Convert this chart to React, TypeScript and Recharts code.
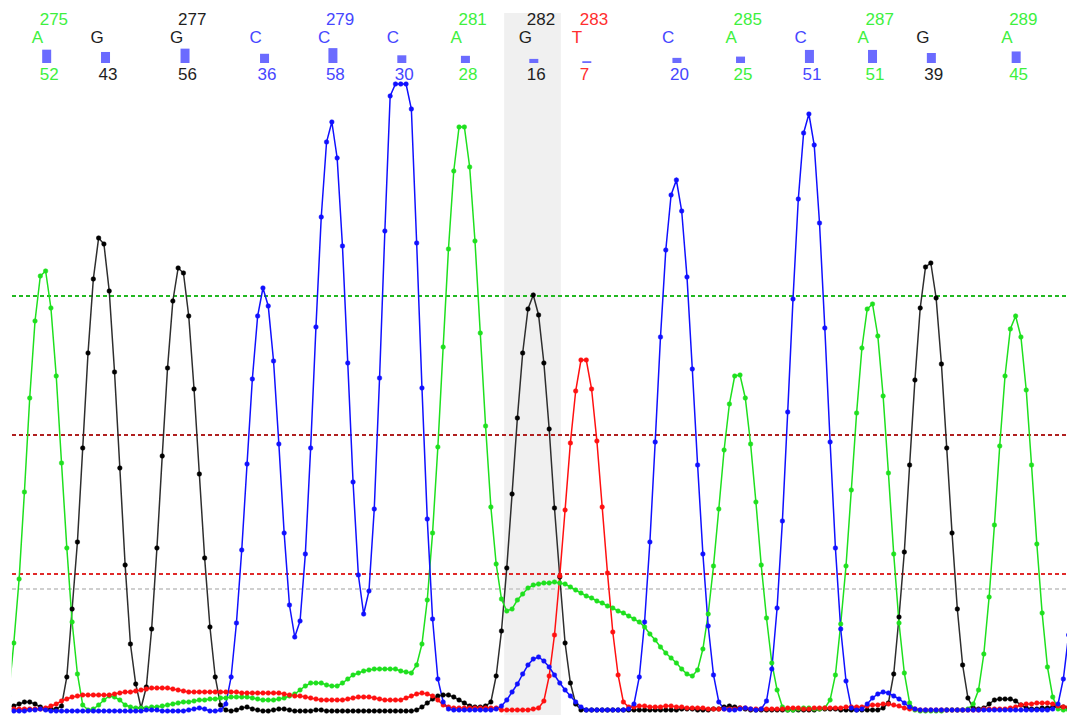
import { ComposedChart, Line, XAxis, YAxis, ReferenceArea, ReferenceLine, Scatter } from "recharts";

// sample index of the first value in each trace
const START = -1;

// trace heights per sample (index -1 .. 201)
const traceA = [
  16,
  69, 133, 220, 314, 391, 436, 441, 404, 336, 249,
  164, 90, 38, 7, 2, 3, 7, 12, 16, 15,
  12, 7, 5, 4, 4, 4, 5, 5, 6, 7,
  8, 9, 10, 10, 11, 12, 12, 13, 13, 14,
  14, 15, 15, 15, 15, 14, 13, 12, 12, 12,
  13, 14, 16, 18, 22, 26, 29, 29, 29, 27,
  26, 26, 29, 33, 37, 39, 41, 42, 43, 43,
  43, 43, 43, 41, 40, 39, 47, 68, 112, 179,
  265, 365, 463, 541, 585, 585, 545, 471, 379, 286,
  205, 148, 113, 101, 103, 112, 118, 124, 127, 128,
  129, 129, 130, 129, 128, 125, 122, 119, 116, 114,
  111, 109, 106, 104, 101, 99, 96, 93, 90, 85,
  78, 72, 65, 59, 54, 49, 43, 38, 36, 42,
  63, 98, 146, 203, 262, 308, 336, 337, 314, 268,
  210, 147, 94, 49, 22, 5, 2, 2, 3, 4,
  4, 3, 3, 4, 12, 37, 88, 146, 222, 299,
  364, 403, 408, 376, 316, 239, 158, 89, 39, 9,
  2, 1, 1, 1, 1, 1, 2, 2, 2, 2,
  3, 8, 22, 58, 115, 187, 266, 336, 383, 396,
  375, 322, 247, 168, 99, 45, 15, 3, 2, 2,
  2, 2,
];

const traceC = [
  1,
  1, 1, 1, 2, 2, 3, 2, 1, 1, 1,
  1, 1, 1, 1, 1, 1, 1, 1, 1, 1,
  1, 1, 1, 1, 1, 2, 2, 2, 1, 1,
  1, 1, 1, 2, 3, 4, 3, 1, 1, 2,
  8, 35, 89, 162, 248, 333, 396, 424, 406, 351,
  268, 179, 107, 75, 91, 158, 264, 385, 495, 570,
  590, 554, 466, 349, 230, 137, 98, 121, 203, 334,
  481, 616, 628, 628, 628, 603, 469, 324, 193, 93,
  33, 10, 3, 2, 2, 2, 2, 2, 2, 2,
  2, 3, 6, 12, 20, 28, 38, 47, 53, 55,
  51, 45, 37, 29, 22, 16, 10, 5, 2, 2,
  2, 2, 2, 2, 2, 2, 3, 8, 35, 90,
  170, 270, 375, 462, 517, 532, 501, 435, 343, 247,
  158, 86, 37, 10, 3, 2, 2, 3, 4, 3,
  2, 3, 11, 43, 104, 191, 300, 413, 513, 579,
  598, 567, 489, 384, 270, 164, 83, 31, 4, 2,
  3, 8, 14, 18, 20, 19, 16, 13, 9, 5,
  3, 2, 2, 2, 2, 2, 2, 2, 2, 2,
  2, 2, 2, 2, 2, 2, 2, 2, 2, 2,
  2, 2, 2, 2, 2, 2, 3, 8, 33, 77,
  139, 250,
];

const traceG = [
  5,
  6, 8, 10, 10, 8, 5, 3, 3, 3, 6,
  35, 103, 170, 264, 359, 433, 474, 468, 421, 340,
  244, 147, 68, 28, 4, 25, 83, 164, 256, 344,
  411, 444, 439, 396, 323, 238, 154, 85, 35, 7,
  2, 1, 2, 4, 5, 3, 2, 1, 1, 2,
  3, 3, 2, 1, 1, 1, 1, 2, 2, 1,
  1, 1, 1, 1, 1, 1, 1, 1, 1, 1,
  1, 1, 1, 1, 1, 1, 2, 5, 9, 13,
  16, 17, 17, 15, 12, 9, 6, 5, 5, 6,
  10, 36, 81, 144, 218, 294, 359, 403, 417, 397,
  349, 283, 204, 135, 69, 29, 8, 2, 2, 2,
  2, 2, 2, 2, 2, 2, 2, 2, 2, 2,
  2, 2, 2, 2, 2, 2, 3, 3, 3, 2,
  2, 2, 3, 3, 5, 6, 5, 4, 3, 2,
  2, 2, 2, 2, 2, 2, 2, 2, 2, 2,
  2, 2, 3, 3, 3, 3, 2, 2, 2, 2,
  2, 2, 2, 2, 4, 9, 38, 95, 160, 247,
  332, 404, 445, 449, 414, 348, 264, 179, 103, 47,
  14, 4, 3, 4, 8, 12, 13, 13, 13, 11,
  7, 4, 3, 3, 4, 4, 5, 5, 5, 4,
  4, 4,
];

const traceT = [
  3,
  3, 3, 3, 3, 3, 3, 4, 6, 8, 11,
  13, 15, 16, 17, 17, 17, 17, 17, 17, 18,
  19, 20, 20, 21, 22, 23, 24, 24, 24, 24,
  23, 22, 21, 20, 20, 20, 20, 20, 20, 20,
  20, 20, 20, 19, 19, 19, 19, 19, 19, 19,
  19, 18, 17, 16, 16, 15, 14, 13, 12, 12,
  12, 12, 12, 13, 14, 15, 15, 15, 14, 13,
  12, 12, 12, 12, 14, 16, 18, 19, 18, 16,
  12, 7, 5, 4, 4, 4, 4, 4, 4, 4,
  4, 4, 2, 2, 2, 2, 2, 2, 3, 4,
  11, 36, 77, 136, 202, 269, 321, 352, 352, 323,
  271, 205, 139, 80, 37, 10, 5, 5, 6, 6,
  5, 5, 5, 6, 6, 5, 5, 4, 4, 4,
  4, 3, 3, 3, 3, 3, 3, 4, 4, 3,
  3, 3, 3, 3, 3, 3, 4, 4, 4, 3,
  3, 4, 4, 4, 4, 4, 4, 5, 5, 5,
  5, 6, 7, 7, 8, 8, 7, 6, 4, 3,
  3, 2, 2, 2, 2, 2, 2, 2, 2, 2,
  2, 2, 2, 3, 3, 3, 3, 3, 4, 5,
  7, 8, 8, 9, 9, 9, 8, 6, 5, 5,
  5, 5,
];

// called bases: position in samples, base, quality, position label
const baseCalls = [
  { pos: 6.2, base: "A", q: 52, num: "275" },
  { pos: 17.3, base: "G", q: 43, num: "" },
  { pos: 32.3, base: "G", q: 56, num: "277" },
  { pos: 47.3, base: "C", q: 36, num: "" },
  { pos: 60.2, base: "C", q: 58, num: "279" },
  { pos: 73.2, base: "C", q: 30, num: "" },
  { pos: 85.2, base: "A", q: 28, num: "281" },
  { pos: 98.1, base: "G", q: 16, num: "282" },
  { pos: 108.1, base: "T", q: 7, num: "283" },
  { pos: 125.1, base: "C", q: 20, num: "" },
  { pos: 137.1, base: "A", q: 25, num: "285" },
  { pos: 150.1, base: "C", q: 51, num: "" },
  { pos: 162, base: "A", q: 51, num: "287" },
  { pos: 173.1, base: "G", q: 39, num: "" },
  { pos: 189.1, base: "A", q: 45, num: "289" },
];

// selected base, in samples
const highlight = [92.5, 103.2];

const thresholds = [
  { y: 416, color: "#22b822" },
  { y: 277, color: "#b02020" },
  { y: 138, color: "#e02a2a" },
  { y: 123, color: "#cfcfcf" },
];

const FONT = '"Liberation Sans", Arial, sans-serif';
const textColor: Record<string, string> = { A: "#3ef03e", C: "#4646ff", G: "#1e1e1e", T: "#ff2e2e" };
const traceColor = { A: "#1ee01e", C: "#1010ff", G: "#2e2e2e", T: "#ff1010" };

const rows = traceA.map((a, k) => ({ i: k + START, A: a, C: traceC[k], G: traceG[k], T: traceT[k] }));
const headerRows = baseCalls.map((b) => ({ ...b, i: b.pos, y: 687 }));

function BaseMark(props: any) {
  const { cx, cy, payload } = props;
  if (cx == null || cy == null || !payload) return null;
  const color = textColor[payload.base];
  const h = Math.max(1.5, payload.q / 3.9);
  return (
    <g fontFamily={FONT} fontSize={17}>
      {payload.num ? (
        <text x={cx - 7} y={cy} fill={color}>
          {payload.num}
        </text>
      ) : null}
      <text x={cx - 15} y={cy + 18} fill={color}>
        {payload.base}
      </text>
      <rect x={cx - 4.5} y={cy + 38 - h} width={9} height={h} fill="#6b6bff" />
      <text x={cx - 7} y={cy + 55} fill={color}>
        {payload.q}
      </text>
    </g>
  );
}

function trace(key: "A" | "C" | "G" | "T", dotFill: string) {
  const col = traceColor[key];
  return (
    <Line
      type="linear"
      dataKey={key}
      stroke={col}
      strokeWidth={1.5}
      dot={{ r: 2.3, fill: dotFill, stroke: dotFill, strokeWidth: 0.5 }}
      activeDot={false}
      isAnimationActive={false}
    />
  );
}

export default function App() {
  return (
    <div style={{ width: 1067, height: 707, background: "#fff" }}>
      <ComposedChart width={1067} height={707} data={rows} margin={{ top: 4, right: 0, bottom: 0, left: 3.7 }}>
        <XAxis dataKey="i" type="number" domain={[-0.4, 200.2]} allowDataOverflow hide />
        <YAxis type="number" domain={[-3, 700]} allowDataOverflow hide />
        <ReferenceArea x1={highlight[0]} x2={highlight[1]} y1={-3} y2={699} fill="#f0f0f0" fillOpacity={1} stroke="none" />
        {thresholds.map((t) => (
          <ReferenceLine
            key={t.y}
            y={t.y}
            stroke={t.color}
            strokeWidth={1.2}
            strokeDasharray="4 3"
            shapeRendering="crispEdges"
          />
        ))}
        {trace("G", "#000000")}
        {trace("A", traceColor.A)}
        {trace("T", traceColor.T)}
        {trace("C", traceColor.C)}
        <Scatter data={headerRows} dataKey="y" shape={BaseMark} isAnimationActive={false} />
      </ComposedChart>
    </div>
  );
}
